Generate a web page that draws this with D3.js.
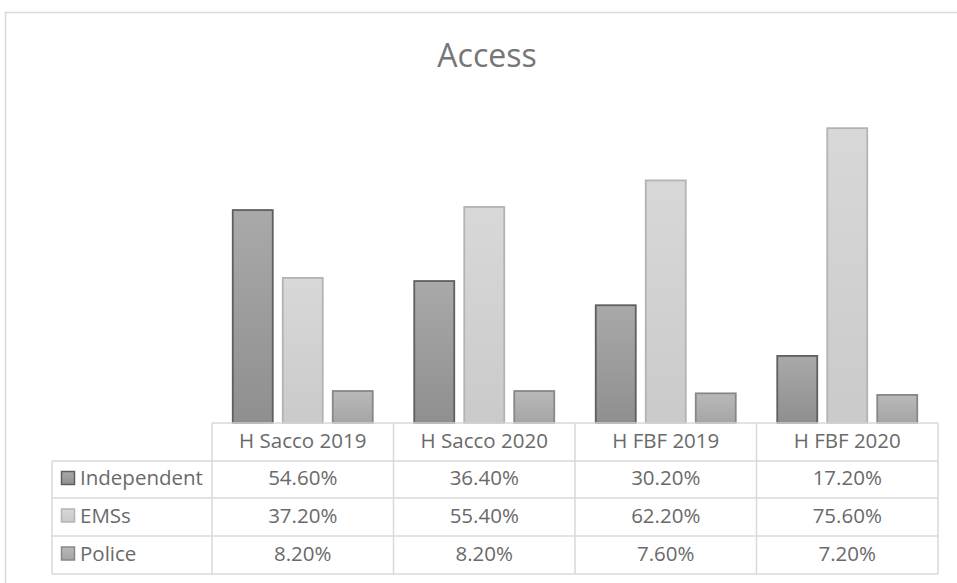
<!DOCTYPE html>
<html>
<head>
<meta charset="utf-8">
<script src="https://cdn.jsdelivr.net/npm/d3@7"></script>
<style>
  body { margin: 0; background: #fff; }
  text { font-family: "Open Sans", sans-serif; fill: #6a6a6a; }
</style>
</head>
<body>
<svg id="chart" width="957" height="583"></svg>
<script>
// data
const categories = ["H Sacco 2019", "H Sacco 2020", "H FBF 2019", "H FBF 2020"];
const seriesNames = ["Independent", "EMSs", "Police"];
const independent = [0.546, 0.364, 0.302, 0.172];
const emss = [0.372, 0.554, 0.622, 0.756];
const police = [0.082, 0.082, 0.076, 0.072];
const values = [independent, emss, police];

// look of each series (top colour, bottom colour, outline)
const looks = [
  { top: "#a9a9a9", bottom: "#8f8f8f", line: "#5f5f5f" },
  { top: "#d8d8d8", bottom: "#cacaca", line: "#b3b3b3" },
  { top: "#b9b9b9", bottom: "#a5a5a5", line: "#878787" }
];

const svg = d3.select("#chart");
const W = 957, H = 583;

// chart frame
svg.append("rect")
  .attr("x", 5.5).attr("y", 12.5)
  .attr("width", W).attr("height", H)
  .attr("fill", "#fff").attr("stroke", "#d9d9d9").attr("stroke-width", 1.5);

// title
svg.append("text")
  .attr("x", 487).attr("y", 67)
  .attr("text-anchor", "middle")
  .style("font-size", "32px")
  .style("fill", "#767676")
  .text("Access");

// gradients
const defs = svg.append("defs");
looks.forEach((l, i) => {
  const g = defs.append("linearGradient")
    .attr("id", "grad" + i)
    .attr("x1", 0).attr("y1", 0).attr("x2", 0).attr("y2", 1);
  g.append("stop").attr("offset", "0%").attr("stop-color", l.top);
  g.append("stop").attr("offset", "100%").attr("stop-color", l.bottom);
});

const plotLeft = 212, plotRight = 938;
const baseY = 423, topY = 111;

const x = d3.scaleBand().domain(categories).range([plotLeft, plotRight]);
const xs = d3.scaleBand().domain(seriesNames).range([0, x.bandwidth()])
  .paddingInner(0.2).paddingOuter(0.415);
const y = d3.scaleLinear().domain([0, 0.8]).range([baseY, topY]);

// bars
const rows = [];
seriesNames.forEach((s, si) => {
  categories.forEach((c, ci) => rows.push({ s, si, c, v: values[si][ci] }));
});

svg.append("g").selectAll("rect")
  .data(rows)
  .join("rect")
  .attr("x", d => x(d.c) + xs(d.s))
  .attr("y", d => y(d.v))
  .attr("width", xs.bandwidth())
  .attr("height", d => baseY - y(d.v))
  .attr("fill", d => "url(#grad" + d.si + ")")
  .attr("stroke", d => looks[d.si].line)
  .attr("stroke-width", 1.8);

// data table
const rowY = [423, 461, 498, 536, 574];
const tableLeft = 52;
const grid = svg.append("g")
  .attr("stroke", "#d9d9d9").attr("stroke-width", 1.5).attr("fill", "none");

// horizontal lines
rowY.forEach((yy, i) => {
  grid.append("line")
    .attr("x1", i === 0 ? plotLeft : tableLeft).attr("x2", plotRight)
    .attr("y1", yy).attr("y2", yy);
});
// vertical lines
const colX = [plotLeft].concat(categories.map(c => x(c) + x.bandwidth()));
colX.forEach(xx => {
  grid.append("line").attr("x1", xx).attr("x2", xx)
    .attr("y1", rowY[0]).attr("y2", rowY[4]);
});
grid.append("line").attr("x1", tableLeft).attr("x2", tableLeft)
  .attr("y1", rowY[1]).attr("y2", rowY[4]);

const fontSize = "20.5px";

// header row
svg.append("g").selectAll("text")
  .data(categories)
  .join("text")
  .attr("x", d => x(d) + x.bandwidth() / 2)
  .attr("y", (rowY[0] + rowY[1]) / 2 - 1)
  .attr("dy", "0.35em")
  .attr("text-anchor", "middle")
  .style("font-size", fontSize)
  .text(d => d);

// row labels with legend keys
seriesNames.forEach((s, si) => {
  const cy = (rowY[si + 1] + rowY[si + 2]) / 2 - 1.5;
  svg.append("rect")
    .attr("x", 61.5).attr("y", cy - 6.5)
    .attr("width", 13).attr("height", 13)
    .attr("fill", "url(#grad" + si + ")")
    .attr("stroke", looks[si].line).attr("stroke-width", 1.5);
  svg.append("text")
    .attr("x", 80).attr("y", cy)
    .attr("dy", "0.35em")
    .style("font-size", fontSize)
    .text(s);
  svg.append("g").selectAll("text")
    .data(values[si])
    .join("text")
    .attr("x", (d, ci) => x(categories[ci]) + x.bandwidth() / 2)
    .attr("y", cy)
    .attr("dy", "0.35em")
    .attr("text-anchor", "middle")
    .style("font-size", fontSize)
    .text(d => d3.format(".2%")(d));
});
</script>
</body>
</html>
